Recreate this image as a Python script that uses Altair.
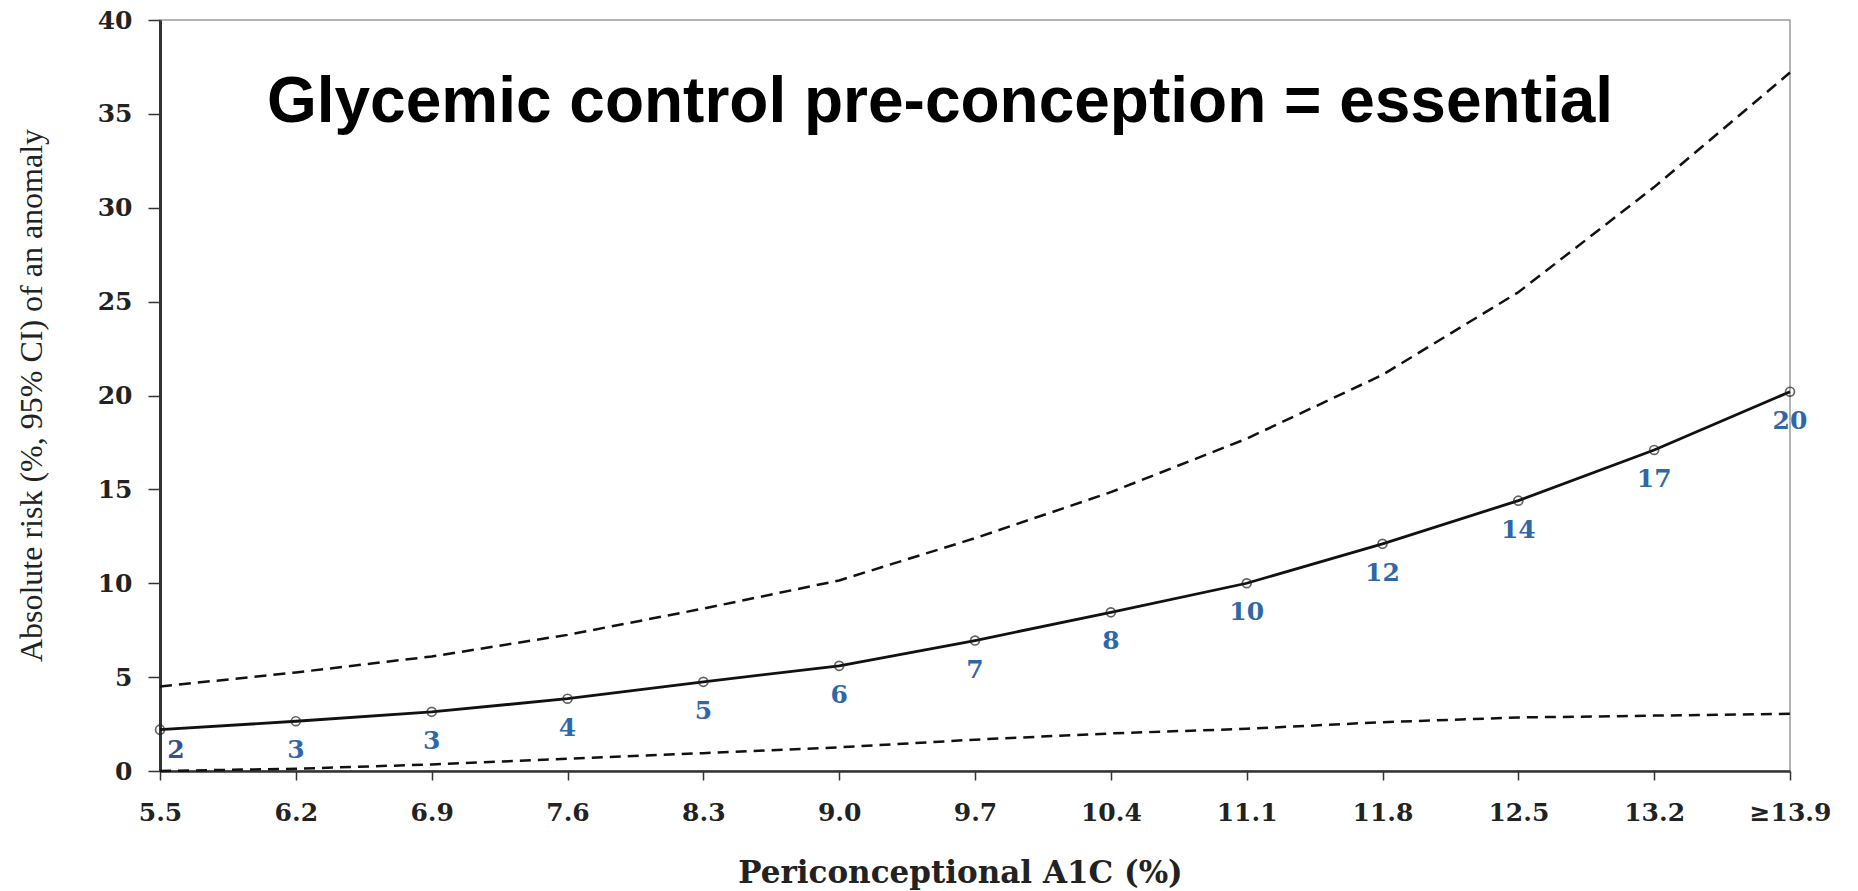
import altair as alt
import pandas as pd

# ---- data ----
a1c_labels = ["5.5", "6.2", "6.9", "7.6", "8.3", "9.0", "9.7", "10.4", "11.1", "11.8", "12.5", "13.2", "≥13.9"]
risk = [2.2, 2.65, 3.15, 3.85, 4.75, 5.6, 6.95, 8.45, 10.0, 12.1, 14.4, 17.1, 20.2]
upper_ci = [4.5, 5.25, 6.1, 7.25, 8.65, 10.15, 12.4, 14.85, 17.7, 21.1, 25.5, 31.1, 37.2]
lower_ci = [0.0, 0.12, 0.35, 0.65, 0.95, 1.26, 1.67, 2.0, 2.25, 2.6, 2.85, 2.95, 3.05]
risk_labels = ["2", "3", "3", "4", "5", "6", "7", "8", "10", "12", "14", "17", "20"]
y_ticks = [0, 5, 10, 15, 20, 25, 30, 35, 40]
headline = "Glycemic control pre-conception = essential"

df = pd.DataFrame({
    "a1c": a1c_labels,
    "risk": risk,
    "upper": upper_ci,
    "lower": lower_ci,
    "lab": risk_labels,
    "idx": list(range(len(a1c_labels))),
})

SERIF = "Liberation Serif"
WIDE = "DejaVu Serif"
W, H = 1630, 751

x_enc = alt.X(
    "a1c:O",
    sort=a1c_labels,
    scale=alt.Scale(type="point", padding=0),
    axis=alt.Axis(
        title="Periconceptional A1C (%)",
        labelAngle=0,
        labelFont=WIDE, labelFontSize=25, labelFontWeight="bold", labelColor="#222222",
        labelPadding=20,
        tickSize=9, tickColor="#333333", tickWidth=1.5,
        domainColor="#333333", domainWidth=2.5,
        titleFont=WIDE, titleFontSize=31, titleFontWeight="bold", titleColor="#222222",
        titleX=800, titleY=102, titleBaseline="middle", titleAlign="center",
        grid=False,
    ),
)

y_scale = alt.Scale(domain=[0, 40], nice=False, zero=True)
y_axis = alt.Axis(
    title="Absolute risk (%, 95% CI) of an anomaly",
    values=y_ticks,
    labelFont=WIDE, labelFontSize=25, labelFontWeight="bold", labelColor="#222222",
    labelPadding=16,
    tickSize=12, tickColor="#333333", tickWidth=1.5,
    domainColor="#333333", domainWidth=3,
    titleFont=SERIF, titleFontSize=32, titleFontWeight="normal", titleColor="#222222",
    titleX=-129, titleY=375, titleAngle=270, titleBaseline="middle", titleAlign="center",
    grid=False,
)

base = alt.Chart(df)

upper_line = base.mark_line(color="#111111", strokeWidth=2.5, strokeDash=[12, 7]).encode(
    x=x_enc, y=alt.Y("upper:Q", scale=y_scale, axis=y_axis)
)
lower_line = base.mark_line(color="#111111", strokeWidth=2.5, strokeDash=[11, 7]).encode(
    x=x_enc, y=alt.Y("lower:Q", scale=y_scale)
)
main_line = base.mark_line(color="#111111", strokeWidth=2.8).encode(
    x=x_enc, y=alt.Y("risk:Q", scale=y_scale)
)
points = base.mark_point(shape="circle", filled=False, color="#222222", size=80, strokeWidth=1.7).encode(
    x=x_enc, y=alt.Y("risk:Q", scale=y_scale)
)
labels = base.transform_filter("datum.idx > 0").mark_text(
    font=WIDE, fontSize=25, fontWeight="bold", color="#2f68a8", dy=29, baseline="middle", align="center"
).encode(x=x_enc, y=alt.Y("risk:Q", scale=y_scale), text="lab:N")
first_label = base.transform_filter("datum.idx == 0").mark_text(
    font=WIDE, fontSize=25, fontWeight="bold", color="#34508f", dx=16, dy=20, baseline="middle", align="center"
).encode(x=x_enc, y=alt.Y("risk:Q", scale=y_scale), text="lab:N")

title_df = pd.DataFrame({"t": [headline]})
title = alt.Chart(title_df).mark_text(
    font="Liberation Sans", fontSize=64, fontWeight="bold", color="#000000",
    align="center", baseline="alphabetic"
).encode(x=alt.value(780), y=alt.value(102), text="t:N")

chart = alt.layer(upper_line, lower_line, main_line, points, labels, first_label, title).properties(
    width=W, height=H,
    autosize=alt.AutoSizeParams(type="none"),
    padding={"left": 160, "top": 20, "right": 68, "bottom": 120},
    background="white",
).configure_view(stroke="#9a9a9a", strokeWidth=1.5)

chart.save("out.html", embed_options={"renderer": "svg", "actions": False})
